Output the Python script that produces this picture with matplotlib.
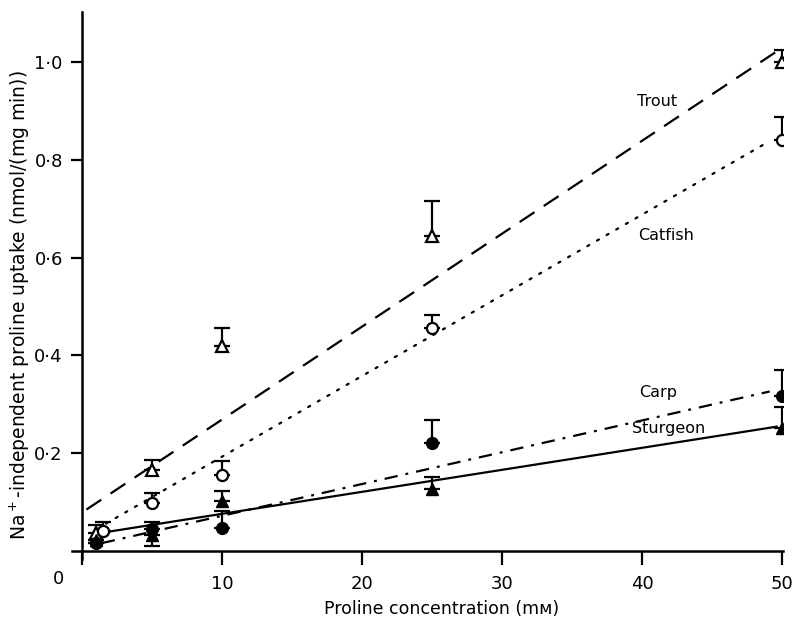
import matplotlib
matplotlib.use("Agg")
import matplotlib.pyplot as plt
import numpy as np

plt.rcParams['font.family'] = ['DejaVu Sans']

# proline concentration (mM)
conc = np.array([1, 5, 10, 25, 50])

# mean uptake and upward / downward error (nmol/(mg min))
trout = np.array([0.037, 0.165, 0.42, 0.645, 1.0])
trout_up = np.array([0.016, 0.02, 0.035, 0.07, 0.025])
catfish = np.array([0.04, 0.098, 0.155, 0.455, 0.84])
catfish_up = np.array([0.02, 0.02, 0.028, 0.027, 0.047])
carp = np.array([0.016, 0.045, 0.047, 0.22, 0.316])
carp_up = np.array([0.0, 0.015, 0.035, 0.048, 0.055])
sturgeon = np.array([0.022, 0.032, 0.102, 0.127, 0.252])
sturgeon_up = np.array([0.0, 0.0, 0.02, 0.025, 0.043])
sturgeon_dn = np.array([0.0, 0.022, 0.0, 0.0, 0.0])

# fitted regression lines: slope, intercept, x range
fits = {
    'Trout': (0.0190, 0.079, 0.3, 49.8),
    'Catfish': (0.0165, 0.028, 1.7, 49.1),
    'Carp': (0.0065, 0.007, 1.4, 49.1),
    'Sturgeon': (0.0045, 0.031, 1.4, 49.6),
}
line_styles = {
    'Trout': (0, (8, 5)),
    'Catfish': (0, (1, 4)),
    'Carp': (0, (6, 3.6, 1.3, 3.6)),
    'Sturgeon': '-',
}
label_pos = {
    'Trout': (39.6, 0.918),
    'Catfish': (39.7, 0.646),
    'Carp': (39.8, 0.324),
    'Sturgeon': (39.3, 0.25),
}

fig = plt.figure(figsize=(7.98, 6.2), dpi=100)
ax = fig.add_axes([72 / 798, 61 / 620, 711 / 798, 547 / 620])
ax.set_xlim(-0.73, 50.05)
ax.set_ylim(-0.0164, 1.102)

for name, (m, b, x0, x1) in fits.items():
    xs = np.array([x0, x1])
    ax.plot(xs, m * xs + b, color='black', lw=1.6, ls=line_styles[name],
            dash_capstyle='round' if name == 'Catfish' else 'butt', zorder=2)
    lx, ly = label_pos[name]
    ax.text(lx, ly, name, fontsize=11.5, ha='left', va='center')

ebkw = dict(ecolor='black', elinewidth=1.6, capsize=6, capthick=1.6,
            linestyle='none', zorder=3)
ax.errorbar(conc, trout, yerr=[np.zeros(5), trout_up], fmt='^', ms=8.5,
            mfc='white', mec='black', mew=1.6, **ebkw)
ax.errorbar(conc + 0.5 * (conc == 1), catfish, yerr=[np.zeros(5), catfish_up],
            fmt='o', ms=8, mfc='white', mec='black', mew=1.6, **ebkw)
ax.errorbar(conc, carp, yerr=[np.zeros(5), carp_up], fmt='o', ms=8.5,
            mfc='black', mec='black', **ebkw)
ax.errorbar(conc, sturgeon, yerr=[sturgeon_dn, sturgeon_up], fmt='^', ms=9,
            mfc='black', mec='black', **ebkw)

for s in ['top', 'right']:
    ax.spines[s].set_visible(False)
ax.spines['left'].set_position(('data', 0))
ax.spines['bottom'].set_position(('data', 0))
for s in ['left', 'bottom']:
    ax.spines[s].set_linewidth(1.8)

ax.set_xticks([0, 10, 20, 30, 40, 50])
ax.set_xticklabels(['', '10', '20', '30', '40', '50'])
yt = [0.2, 0.4, 0.6, 0.8, 1.0]
ax.set_yticks(yt)
ax.set_yticklabels([f'{v:.1f}'.replace('.', '\u00b7') for v in yt])
ax.tick_params(axis='x', direction='out', length=10, width=1.6, labelsize=13, pad=7)
ax.tick_params(axis='y', direction='out', length=8, width=1.6, labelsize=13, pad=6)
ax.text(-1.66, -0.057, '0', fontsize=13, ha='center', va='center', clip_on=False)

ax.set_xlabel('Proline concentration (m\u1d0d)', fontsize=12.5)
ax.xaxis.set_label_coords(0.52, -0.075)
ax.set_ylabel('Na$^+$-independent proline uptake (nmol/(mg min))', fontsize=13.5)
ax.yaxis.set_label_coords(-0.056, 0.465)

fig.savefig('out.png', dpi=100)
